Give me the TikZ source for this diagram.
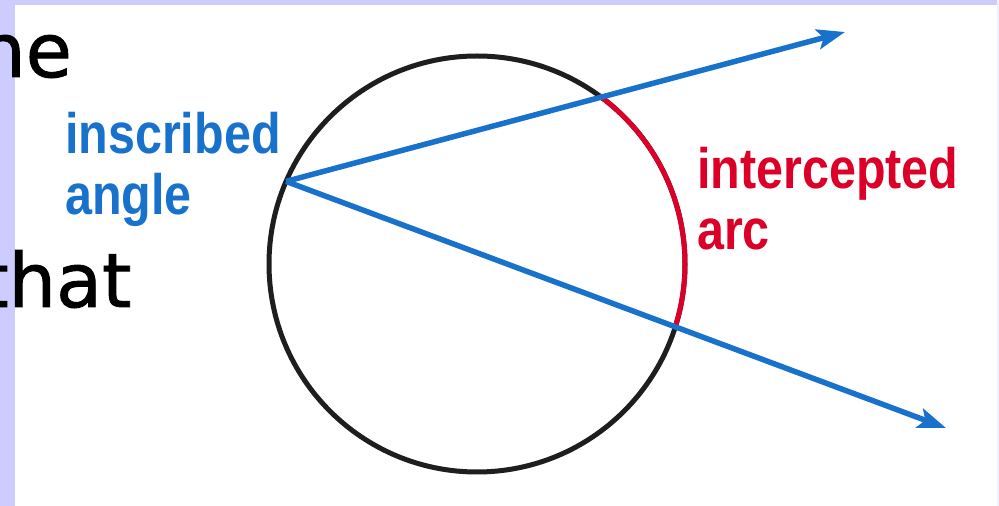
\documentclass[tikz,border=0pt]{standalone}
\usepackage{fontspec}
\usepackage{xcolor}
\usepackage{tikz}
\usetikzlibrary{arrows.meta,calc}

\newfontfamily\labelfont{Liberation Sans}[FakeStretch=0.85]
\newfontfamily\handfont{DejaVu Sans}[FakeBold=1.2]

\definecolor{angleblue}{RGB}{24,114,204}
\definecolor{arcred}{RGB}{220,0,40}
\definecolor{slideband}{RGB}{204,204,255}
\definecolor{circleink}{RGB}{30,30,30}

\begin{document}
\begin{tikzpicture}[
      x=1pt, y=1pt,
      lbl/.style={inner sep=0pt, align=left, font=\labelfont\bfseries\fontsize{57}{61}\selectfont},
      hand/.style={inner sep=0pt, anchor=base west, font=\handfont\fontsize{75}{80}\selectfont},
      ray/.style={draw=angleblue, line width=5.5pt, -{Stealth[length=28pt, width=20pt, inset=6pt]}},
      rim/.style={draw=circleink, line width=5pt},
      cut/.style={draw=arcred, line width=5pt},
    ]
    \useasboundingbox (0,0) rectangle (999,506);
    \clip (0,0) rectangle (999,506);

    % Slide background and border bands
    \fill[white] (0,0) rectangle (999,506);
    \fill[slideband] (0,0) rectangle (15,506);
    \fill[slideband] (0,501) rectangle (999,506);
    \fill[slideband!30] (997,0) rectangle (999,506);

    % Slide text behind the figure
    \node (he) [hand] at (-22,429) {he};
    \node (that) [hand] at (-21,199) {that};

    % Circle with vertex on it
    \coordinate (O) at (477,242);
    \coordinate (V) at ($(O)+(156.6:208)$);
    \coordinate (A) at (845,474);
    \coordinate (B) at (946,78);
    \draw[rim] (O) circle[radius=208];
    \draw[cut] ($(O)+(54.1:208)$) arc[start angle=54.1, end angle=-17.5, radius=208];

    % Sides of the angle
    \draw[ray] (V) -- (A);
    \draw[ray] (V) -- (B);

    % Labels
    \node (ins) [lbl, text=angleblue, anchor=base west] at (65,291) {inscribed\\angle};
    \node (icp) [lbl, text=arcred, anchor=base west] at (697,256) {intercepted\\arc};
  \end{tikzpicture}
\end{document}
